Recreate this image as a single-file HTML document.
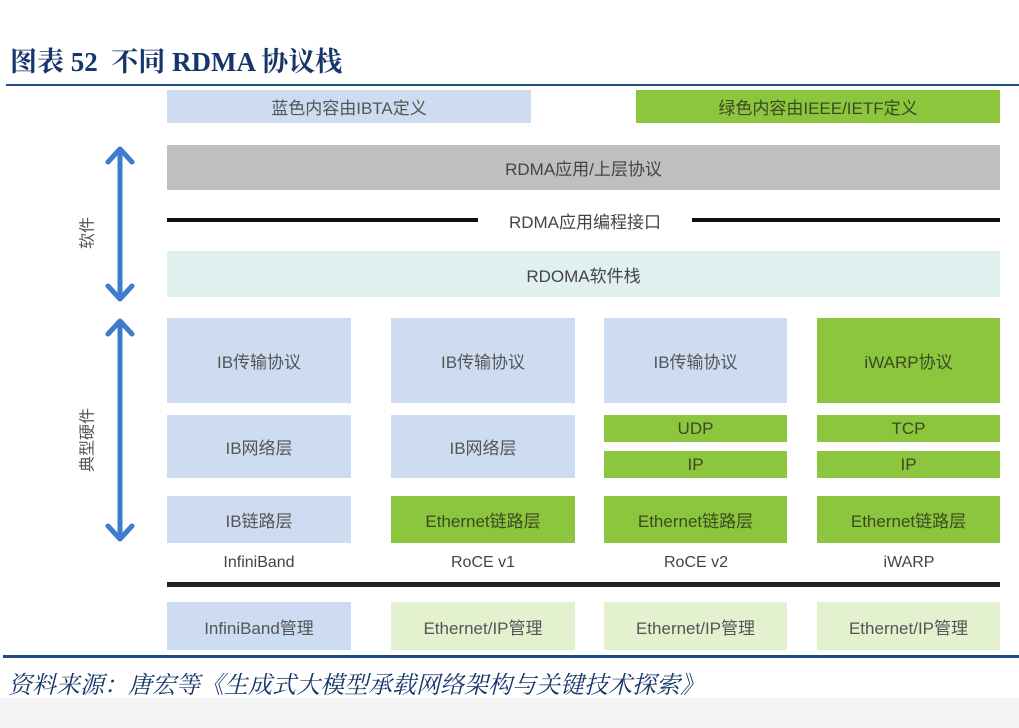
<!DOCTYPE html>
<html><head><meta charset="utf-8"><style>
body{margin:0;width:1019px;height:728px;background:#fff;position:relative;overflow:hidden;font-family:"Liberation Sans","Noto Sans CJK SC",sans-serif;}
.a{position:absolute;}
.b{position:absolute;display:flex;align-items:center;justify-content:center;font-size:17px;color:#555;}
.bl{background:#cddcf0;}
.gr{background:#8cc53e;color:#3c4a22;}
.lg{background:#e3f1cf;}
.lbl{position:absolute;font-size:16px;color:#444;text-align:center;width:184px;top:554px;}
</style></head><body>
<div class="a" style="left:10px;top:40px;font-family:'Liberation Serif','Noto Serif CJK SC',serif;font-weight:bold;font-size:27px;color:#14366b;white-space:nowrap;">图表 52&nbsp; 不同 RDMA 协议栈</div>
<div class="a" style="left:6px;top:84px;width:1013px;height:2px;background:#1f4a80;"></div>

<div class="b bl" style="left:167px;top:90px;width:364px;height:33px;">蓝色内容由IBTA定义</div>
<div class="b gr" style="left:636px;top:90px;width:364px;height:33px;">绿色内容由IEEE/IETF定义</div>
<div class="b" style="left:167px;top:145px;width:833px;height:45px;background:#bfbfbf;color:#444;">RDMA应用/上层协议</div>
<div class="a" style="left:167px;top:218px;width:311px;height:4px;background:#111;"></div>
<div class="b" style="left:480px;top:208px;width:210px;height:24px;color:#444;">RDMA应用编程接口</div>
<div class="a" style="left:692px;top:218px;width:308px;height:4px;background:#111;"></div>
<div class="b" style="left:167px;top:251px;width:833px;height:46px;background:#dff0ee;color:#444;">RDOMA软件栈</div>

<div class="b bl" style="left:167px;top:318px;width:184px;height:85px;">IB传输协议</div>
<div class="b bl" style="left:391px;top:318px;width:184px;height:85px;">IB传输协议</div>
<div class="b bl" style="left:604px;top:318px;width:183px;height:85px;">IB传输协议</div>
<div class="b gr" style="left:817px;top:318px;width:183px;height:85px;">iWARP协议</div>

<div class="b bl" style="left:167px;top:415px;width:184px;height:63px;">IB网络层</div>
<div class="b bl" style="left:391px;top:415px;width:184px;height:63px;">IB网络层</div>
<div class="b gr" style="left:604px;top:415px;width:183px;height:27px;">UDP</div>
<div class="b gr" style="left:604px;top:451px;width:183px;height:27px;">IP</div>
<div class="b gr" style="left:817px;top:415px;width:183px;height:27px;">TCP</div>
<div class="b gr" style="left:817px;top:451px;width:183px;height:27px;">IP</div>

<div class="b bl" style="left:167px;top:496px;width:184px;height:47px;">IB链路层</div>
<div class="b gr" style="left:391px;top:496px;width:184px;height:47px;">Ethernet链路层</div>
<div class="b gr" style="left:604px;top:496px;width:183px;height:47px;">Ethernet链路层</div>
<div class="b gr" style="left:817px;top:496px;width:183px;height:47px;">Ethernet链路层</div>

<div class="lbl" style="left:167px;">InfiniBand</div>
<div class="lbl" style="left:391px;">RoCE v1</div>
<div class="lbl" style="left:604px;">RoCE v2</div>
<div class="lbl" style="left:817px;">iWARP</div>

<div class="a" style="left:167px;top:582px;width:833px;height:5px;background:#222;"></div>

<div class="b bl" style="left:167px;top:602px;width:184px;height:48px;">InfiniBand管理</div>
<div class="b lg" style="left:391px;top:602px;width:184px;height:48px;">Ethernet/IP管理</div>
<div class="b lg" style="left:604px;top:602px;width:183px;height:48px;">Ethernet/IP管理</div>
<div class="b lg" style="left:817px;top:602px;width:183px;height:48px;">Ethernet/IP管理</div>

<div class="a" style="left:3px;top:655px;width:1016px;height:3px;background:#1f4a80;"></div>
<div class="a" style="left:8px;top:665px;font-family:'Liberation Serif','Noto Serif CJK SC',serif;font-style:italic;font-size:24px;color:#14366b;white-space:nowrap;">资料来源：唐宏等《生成式大模型承载网络架构与关键技术探索》</div>
<div class="a" style="left:0;top:698px;width:1019px;height:30px;background:#f3f3f3;"></div>

<svg class="a" style="left:0;top:0" width="1019" height="728">
<g stroke="#3d7cc9" stroke-width="5" fill="none" stroke-linecap="round" stroke-linejoin="round">
<line x1="120" y1="150" x2="120" y2="298"/>
<polyline points="108,162 120,149 132,162"/>
<polyline points="108,286 120,299 132,286"/>
<line x1="120" y1="322" x2="120" y2="538"/>
<polyline points="108,334 120,321 132,334"/>
<polyline points="108,526 120,539 132,526"/>
</g>
<text x="88" y="233" transform="rotate(-90 88 233)" text-anchor="middle" dominant-baseline="middle" font-size="16" fill="#555" font-family="Noto Sans CJK SC,sans-serif">软件</text>
<text x="88" y="440" transform="rotate(-90 88 440)" text-anchor="middle" dominant-baseline="middle" font-size="16" fill="#555" font-family="Noto Sans CJK SC,sans-serif">典型硬件</text>
</svg>
</body></html>
